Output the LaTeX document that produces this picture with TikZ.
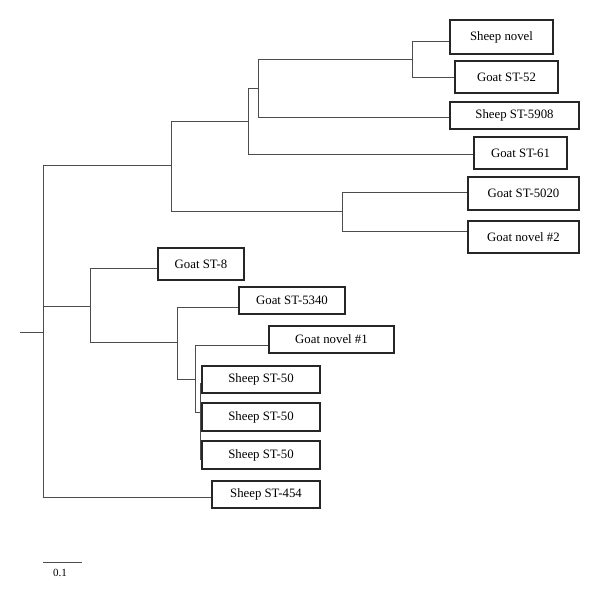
\documentclass[tikz,border=0pt]{standalone}
\usepackage{fontspec}
\setmainfont{Liberation Serif}
\begin{document}
\begin{tikzpicture}[x=1pt,y=-1pt,
  leaf/.style={draw=black!85,line width=1.1pt,rectangle,inner sep=0pt,
    font=\fontsize{12.8}{14}\selectfont},
  br/.style={draw=black!70,line width=0.9pt}]
\useasboundingbox (0,0) rectangle (600,599);
% leaves
\node[leaf,minimum width=103pt,minimum height=34pt] (sn) at (501.5,37) {Sheep novel};
\node[leaf,minimum width=103pt,minimum height=32pt] (g52) at (506.5,77) {Goat ST-52};
\node[leaf,minimum width=129pt,minimum height=27pt] (s5908) at (514.5,115.5) {Sheep ST-5908};
\node[leaf,minimum width=93pt,minimum height=32pt] (g61) at (520.5,153) {Goat ST-61};
\node[leaf,minimum width=111pt,minimum height=33pt] (g5020) at (523.5,193.5) {Goat ST-5020};
\node[leaf,minimum width=111pt,minimum height=32pt] (gn2) at (523.5,237) {Goat novel \#2};
\node[leaf,minimum width=86pt,minimum height=32pt] (g8) at (201,264) {Goat ST-8};
\node[leaf,minimum width=106pt,minimum height=27pt] (g5340) at (292,300.5) {Goat ST-5340};
\node[leaf,minimum width=125pt,minimum height=27pt] (gn1) at (331.5,339.5) {Goat novel \#1};
\node[leaf,minimum width=118pt,minimum height=27pt] (s50a) at (261,379.5) {Sheep ST-50};
\node[leaf,minimum width=118pt,minimum height=28pt] (s50b) at (261,417) {Sheep ST-50};
\node[leaf,minimum width=118pt,minimum height=28pt] (s50c) at (261,455) {Sheep ST-50};
\node[leaf,minimum width=108pt,minimum height=27pt] (s454) at (266,494.5) {Sheep ST-454};
% internal nodes
\coordinate (a) at (412,59);
\coordinate (b) at (258,88);
\coordinate (c) at (248,121);
\coordinate (d) at (342,211);
\coordinate (e) at (171,165);
\coordinate (s) at (200,412);
\coordinate (f) at (195,379);
\coordinate (g) at (177,342);
\coordinate (h) at (90,306);
\coordinate (root) at (43,332);
\coordinate (stub) at (20,332);
% branches
\draw[br] (a) |- ([yshift=-4pt]sn.west);
\draw[br] (a) |- (g52.west);
\draw[br] (b) |- (a);
\draw[br] (b) |- ([yshift=-1.5pt]s5908.west);
\draw[br] (c) |- (b);
\draw[br] (c) |- ([yshift=-1pt]g61.west);
\draw[br] (d) |- ([yshift=1.5pt]g5020.west);
\draw[br] (d) |- ([yshift=6pt]gn2.west);
\draw[br] (e) |- (c);
\draw[br] (e) |- (d);
\draw[br] (s) |- ([yshift=-3.5pt]s50a.west);
\draw[br] (s) |- (s50b.west);
\draw[br] (s) |- ([yshift=-4pt]s50c.west);
\draw[br] (f) |- ([yshift=-5.5pt]gn1.west);
\draw[br] (f) |- (s);
\draw[br] (g) |- ([yshift=-6.5pt]g5340.west);
\draw[br] (g) |- (f);
\draw[br] (h) |- ([yshift=-4pt]g8.west);
\draw[br] (h) |- (g);
\draw[br] (root) |- (e);
\draw[br] (root) |- (h);
\draw[br] (root) |- ([yshift=-2.5pt]s454.west);
\draw[br] (stub) -- (root);
% scale bar
\coordinate (sb1) at (43,562);
\coordinate (sb2) at (82,562);
\draw[br] (sb1) -- (sb2);
\node[font=\fontsize{11}{13}\selectfont] (sbl) at (60,573) {0.1};
\end{tikzpicture}
\end{document}
